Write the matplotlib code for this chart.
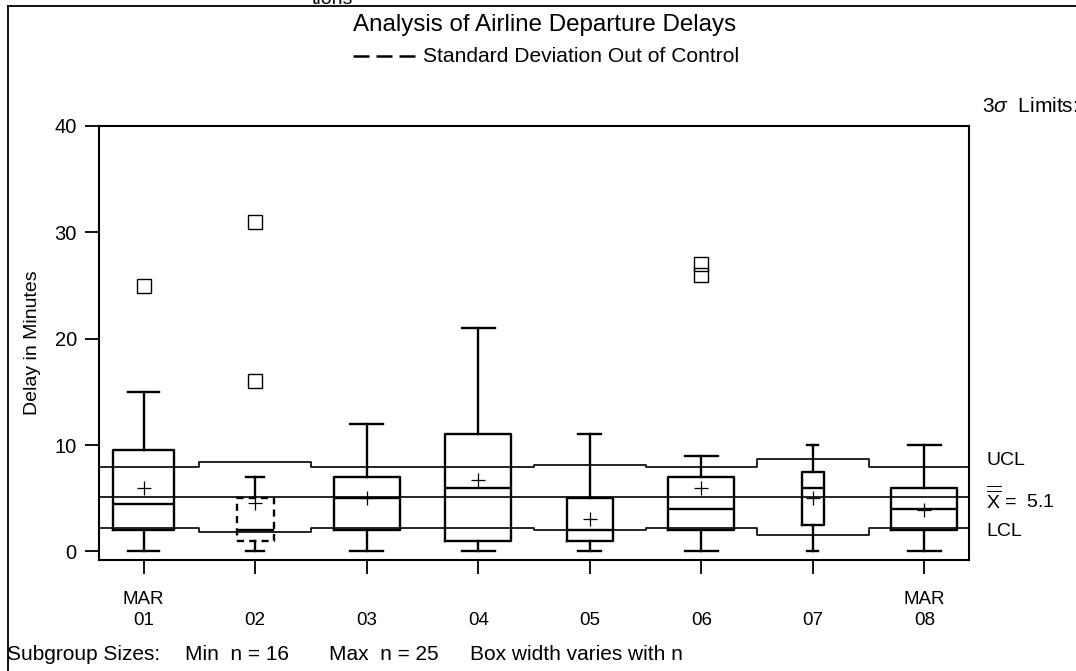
import matplotlib
matplotlib.use('Agg')
import matplotlib.pyplot as plt
from matplotlib.lines import Line2D

plt.rcParams['font.family'] = ['Liberation Sans', 'DejaVu Sans']
plt.rcParams['mathtext.fontset'] = 'custom'
plt.rcParams['mathtext.rm'] = 'Liberation Sans'
plt.rcParams['mathtext.it'] = 'Liberation Sans:italic'

# subgroup data
days = ['MAR\n01', '\n02', '\n03', '\n04', '\n05', '\n06', '\n07', 'MAR\n08']
n_size = [24, 19, 25, 25, 21, 25, 16, 25]
whis_lo = [0, 0, 0, 0, 0, 0, 0, 0]
q1 = [2, 1, 2, 1, 1, 2, 2.5, 2]
med = [4.5, 2, 5, 6, 2, 4, 6, 4]
q3 = [9.5, 5, 7, 11, 5, 7, 7.5, 6]
whis_hi = [15, 7, 12, 21, 11, 9, 10, 10]
means = [6.0, 4.6, 5.0, 6.7, 3.1, 6.0, 5.0, 3.9]
outliers = [[25], [16, 31], [], [], [], [26, 27], [], []]
ucl = [7.95, 8.4, 7.95, 7.95, 8.15, 7.95, 8.65, 7.95]
lcl = [2.25, 1.8, 2.25, 2.25, 2.05, 2.25, 1.55, 2.25]
center = 5.1
out_of_control = [False, True, False, False, False, False, False, False]

W, H = 1076, 671
fig = plt.figure(figsize=(10.76, 6.71), dpi=100)
ax = fig.add_axes([99 / W, 1 - 560 / H, 870 / W, 434 / H])

pos = list(range(1, 9))
# box width goes with subgroup size
widths = [0.2 + 0.39 * (n - 16) / 9 for n in n_size]
stats = []
for i in range(8):
    stats.append(dict(whislo=whis_lo[i], q1=q1[i], med=med[i], q3=q3[i],
                      whishi=whis_hi[i], mean=means[i], fliers=outliers[i]))

bp = ax.bxp(stats, positions=pos, widths=widths, capwidths=[w / 2 for w in widths],
            showmeans=True, patch_artist=False,
            boxprops=dict(color='black', linewidth=1.7),
            medianprops=dict(color='black', linewidth=1.7),
            whiskerprops=dict(color='black', linewidth=1.7),
            capprops=dict(color='black', linewidth=1.7),
            meanprops=dict(marker='+', markeredgecolor='black', markersize=10, markeredgewidth=0.9),
            flierprops=dict(marker='s', markerfacecolor='none', markeredgecolor='black',
                            markersize=9.5, markeredgewidth=1.0, linestyle='none'))
for i, bad in enumerate(out_of_control):
    if bad:
        bp['boxes'][i].set_linestyle((0, (3, 2.2)))

# control limits as steps
xs = [0.6] + pos + [8.4]
ax.step(xs, [ucl[0]] + ucl + [ucl[-1]], where='mid', color='black', lw=1.2)
ax.step(xs, [lcl[0]] + lcl + [lcl[-1]], where='mid', color='black', lw=1.2)
ax.axhline(center, color='black', lw=1.2)

ax.set_xlim(0.6, 8.4)
ax.set_ylim(-0.8, 40)
ax.set_yticks([0, 10, 20, 30, 40])
ax.set_xticks(pos)
ax.set_xticklabels(days, linespacing=1.35)
ax.tick_params(direction='out', length=10, width=1.3, labelsize=13.5, colors='black')
ax.tick_params(axis='y', labelsize=14.5, pad=6)
ax.tick_params(axis='x', pad=12)
for s in ax.spines.values():
    s.set_linewidth(1.5)
ax.set_ylabel('Delay in Minutes', fontsize=14, labelpad=10)

# right side labels
rt = ax.get_yaxis_transform()
lx = 1 + 17 / 870
ax.text(lx, ucl[-1] + 0.6, 'UCL', transform=rt, fontsize=14, va='center')
ax.text(lx, center - 0.15, r'$\overline{\overline{\mathrm{X}}}$ =  5.1', transform=rt,
        fontsize=14, va='center')
ax.text(lx, lcl[-1] - 0.4, 'LCL', transform=rt, fontsize=14, va='center')
fig.text(982 / W, 1 - 106 / H, r'3$\sigma$  Limits:', fontsize=15, va='center')

# titles
fig.text(353 / W, 1 - 25 / H, 'Analysis of Airline Departure Delays', fontsize=17.4,
         va='center')
fig.add_artist(Line2D([353 / W, 415 / W], [1 - 56 / H, 1 - 56 / H],
                      color='black', lw=1.8, ls=(0, (6.4, 2.8))))
fig.text(423 / W, 1 - 56 / H, 'Standard Deviation Out of Control', fontsize=15.1,
         va='center')
fig.text(312 / W, 1.0, 'tions', fontsize=14, va='center')

# footnote pieces
fy = 1 - 655 / H
fig.text(7 / W, fy, 'Subgroup Sizes:', fontsize=15, va='center')
fig.text(185 / W, fy, 'Min  n = 16', fontsize=15, va='center')
fig.text(329 / W, fy, 'Max  n = 25', fontsize=15, va='center')
fig.text(470 / W, fy, 'Box width varies with n', fontsize=15, va='center')

# page frame
fig.add_artist(Line2D([8 / W, 1.0], [1 - 6 / H, 1 - 6 / H], color='black', lw=1.3))
fig.add_artist(Line2D([8 / W, 8 / W], [0, 1 - 6 / H], color='black', lw=1.3))

fig.savefig('out.png', dpi=100)
